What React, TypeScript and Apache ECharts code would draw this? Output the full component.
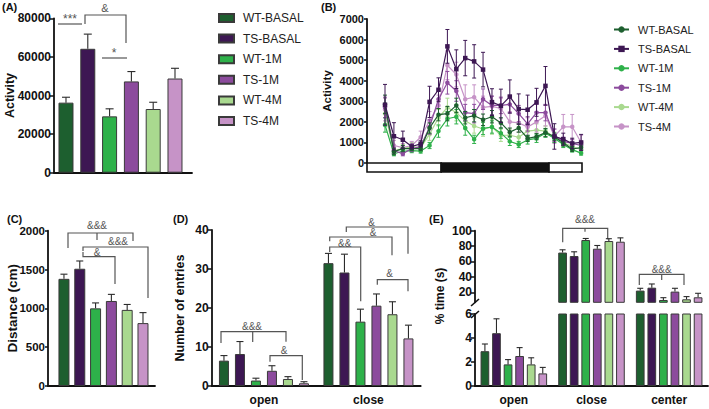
import React, { useEffect, useRef } from "react";
import * as echarts from "echarts";

const FONT = "'Liberation Sans', Arial, Helvetica, sans-serif";

// Groups
const groups = ["WT-BASAL", "TS-BASAL", "WT-1M", "TS-1M", "WT-4M", "TS-4M"];
const groupColors = ["#1d5f2f", "#3d1753", "#2eb14a", "#8c4b9d", "#a9d98f", "#c693c7"];

// Panel A: total activity
const activityMean = [36300, 64200, 29200, 47300, 33000, 48800];
const activitySem = [2800, 7600, 3900, 5100, 3500, 5300];
const groupPos = [0, 1, 2, 3, 4, 5];

// Panel B: hourly activity
const hourIdx = [0, 1, 2, 3, 4, 5, 6, 7, 8, 9, 10, 11, 12, 13, 14, 15, 16, 17, 18, 19, 20, 21, 22];
const hourlyWtBasal = [2850, 550, 700, 700, 700, 1700, 2350, 2400, 2800, 2200, 2300, 2100, 2250, 1950, 1500, 1700, 1200, 1280, 1480, 1280, 980, 680, 750];
const hourlyTsBasal = [2830, 1300, 1130, 800, 930, 2970, 3560, 5670, 4560, 5100, 4940, 4540, 2960, 2780, 3230, 2620, 2590, 2950, 3750, 1290, 1160, 950, 1000];
const hourlyWt1M = [1850, 450, 570, 600, 580, 850, 1550, 2150, 2250, 1700, 1150, 1680, 1750, 1450, 1050, 900, 1120, 1200, 1450, 1200, 900, 650, 480];
const hourlyTs1M = [2700, 600, 450, 700, 800, 1750, 3100, 3900, 3500, 2450, 2400, 3100, 2800, 2800, 2850, 2400, 1900, 2450, 2450, 1350, 1050, 950, 850];
const hourlyWt4M = [2400, 600, 700, 800, 750, 1400, 2200, 2700, 2450, 2050, 1800, 1650, 1750, 1350, 1350, 1250, 1550, 1600, 1550, 1250, 1000, 800, 650];
const hourlyTs4M = [2600, 850, 750, 850, 1250, 2050, 2800, 4750, 4300, 3100, 3200, 2700, 2750, 2650, 2000, 1950, 1750, 2000, 2300, 1300, 1760, 1760, 1000];
const semWtBasal = [450, 150, 150, 100, 100, 250, 300, 350, 350, 300, 300, 280, 300, 250, 200, 200, 150, 150, 200, 180, 150, 120, 120];
const semTsBasal = [990, 660, 420, 120, 150, 760, 580, 820, 940, 860, 810, 840, 650, 810, 810, 740, 710, 680, 940, 620, 290, 255, 390];
const semWt1M = [350, 100, 120, 100, 100, 150, 300, 350, 350, 350, 200, 300, 300, 250, 200, 150, 200, 200, 200, 200, 150, 120, 100];
const semTs1M = [500, 150, 100, 150, 150, 350, 450, 550, 500, 400, 450, 500, 450, 400, 400, 400, 350, 400, 400, 300, 200, 180, 180];
const semWt4M = [500, 150, 200, 200, 200, 300, 400, 450, 400, 400, 350, 350, 350, 300, 300, 250, 250, 300, 250, 250, 200, 150, 150];
const semTs4M = [550, 250, 200, 200, 300, 450, 500, 700, 600, 700, 600, 550, 500, 500, 500, 450, 450, 500, 500, 350, 600, 600, 350];
const hourlyMeans = [hourlyWtBasal, hourlyTsBasal, hourlyWt1M, hourlyTs1M, hourlyWt4M, hourlyTs4M];
const hourlySems = [semWtBasal, semTsBasal, semWt1M, semTs1M, semWt4M, semTs4M];
// light / dark schedule (in hour-index units)
const phaseStart = [-2.02, 6.3, 18.4];
const phaseEnd = [6.3, 18.4, 22.1];
const phaseDark = [0, 1, 0];

// Panel C: distance
const distanceMean = [1380, 1510, 1000, 1095, 980, 810];
const distanceSem = [60, 100, 70, 85, 70, 135];

// Panel D: number of entries
const armCats = ["open", "close"];
const entriesOpen = [6.5, 8.2, 1.4, 3.9, 1.8, 0.7];
const entriesOpenSem = [1.3, 3.2, 0.6, 1.3, 0.6, 0.4];
const entriesClose = [31.5, 29.1, 16.5, 20.6, 18.4, 12.2];
const entriesCloseSem = [2.5, 4.7, 3.2, 3.0, 3.2, 3.4];

// Panel E: % time
const zoneCats = ["open", "close", "center"];
const timeOpen = [2.9, 4.4, 1.8, 2.5, 1.8, 1.05];
const timeOpenSem = [0.6, 1.2, 0.4, 0.7, 0.55, 0.5];
const timeClose = [71.6, 67.1, 87.9, 76.6, 86.6, 85.7];
const timeCloseSem = [3.6, 5.5, 2.0, 4.2, 3.0, 5.0];
const timeCenter = [22.2, 26.0, 10.0, 20.9, 10.9, 13.5];
const timeCenterSem = [3.0, 4.8, 3.0, 4.3, 3.5, 5.2];
const upperTicks = [20, 40, 60, 80, 100];

const BAR_BORDER = "#3a3a3a";
const ERR = { stroke: "#2b2b2b", lineWidth: 1.1 };

function singleErr(capHalf: number) {
  return (params: any, api: any) => {
    const x = api.value(0), m = api.value(1), e = api.value(2);
    const b = api.coord([x, m]);
    const t = api.coord([x, m + e]);
    return {
      type: "group",
      children: [
        { type: "line", shape: { x1: b[0], y1: b[1], x2: t[0], y2: t[1] }, style: ERR },
        { type: "line", shape: { x1: t[0] - capHalf, y1: t[1], x2: t[0] + capHalf, y2: t[1] }, style: ERR },
      ],
    };
  };
}

function groupedErr(j: number, w: number, gap: number, capHalf: number) {
  return (params: any, api: any) => {
    const c = api.value(0), m = api.value(1), e = api.value(2);
    const off = (j - 2.5) * w * (1 + gap);
    const b = api.coord([c, m]);
    const t = api.coord([c, m + e]);
    const x = b[0] + off;
    return {
      type: "group",
      children: [
        { type: "line", shape: { x1: x, y1: b[1], x2: x, y2: t[1] }, style: ERR },
        { type: "line", shape: { x1: x - capHalf, y1: t[1], x2: x + capHalf, y2: t[1] }, style: ERR },
      ],
    };
  };
}

function twoWayErr(color: string) {
  return (params: any, api: any) => {
    const x = api.value(0), m = api.value(1), e = api.value(2);
    const lo = api.coord([x, m - e]);
    const hi = api.coord([x, m + e]);
    const st = { stroke: color, lineWidth: 1 };
    return {
      type: "group",
      children: [
        { type: "line", shape: { x1: lo[0], y1: lo[1], x2: hi[0], y2: hi[1] }, style: st },
        { type: "line", shape: { x1: hi[0] - 2, y1: hi[1], x2: hi[0] + 2, y2: hi[1] }, style: st },
        { type: "line", shape: { x1: lo[0] - 2, y1: lo[1], x2: lo[0] + 2, y2: lo[1] }, style: st },
      ],
    };
  };
}

const axisLineStyle = { lineStyle: { color: "#111", width: 1.8 } };
const plain = (v: number) => String(v);
const tickLabel = (size: number, margin: number) => ({
  fontFamily: FONT,
  fontWeight: "bold" as const,
  fontSize: size,
  color: "#111",
  margin,
});
const numLabel = (size: number, margin: number) => ({ ...tickLabel(size, margin), formatter: plain });
const axisName = (size: number) => ({ fontFamily: FONT, fontWeight: "bold" as const, fontSize: size, color: "#111" });

const SIG = "#555";
function bracket(points: number[][]) {
  return { type: "polyline", silent: true, shape: { points }, style: { stroke: SIG, lineWidth: 1.2, fill: null } };
}
function sigText(text: string, x: number, y: number, size = 10) {
  return {
    type: "text",
    silent: true,
    x,
    y,
    style: { text, fill: SIG, font: `${size}px ${FONT}`, textAlign: "center", textVerticalAlign: "middle" },
  };
}
function panelLabel(text: string, x: number, y: number) {
  return {
    type: "text",
    silent: true,
    x,
    y,
    style: { text, fill: "#111", font: `bold 11px ${FONT}`, textAlign: "left", textVerticalAlign: "top" },
  };
}

function buildOption() {
  const series: any[] = [];

  // ---- A ----
  series.push({
    type: "bar",
    name: "activity",
    xAxisIndex: 0,
    yAxisIndex: 0,
    barWidth: 15,
    data: groupPos.map((p, i) => ({ value: [p, activityMean[i]], itemStyle: { color: groupColors[i] } })),
    itemStyle: { borderColor: BAR_BORDER, borderWidth: 1 },
  });
  series.push({
    type: "custom",
    xAxisIndex: 0,
    yAxisIndex: 0,
    renderItem: singleErr(4),
    data: groupPos.map((p, i) => [p, activityMean[i], activitySem[i]]),
    z: 3,
  });

  // ---- C ----
  series.push({
    type: "bar",
    name: "distance",
    xAxisIndex: 2,
    yAxisIndex: 2,
    barWidth: 11,
    data: groupPos.map((p, i) => ({ value: [p, distanceMean[i]], itemStyle: { color: groupColors[i] } })),
    itemStyle: { borderColor: BAR_BORDER, borderWidth: 1 },
  });
  series.push({
    type: "custom",
    xAxisIndex: 2,
    yAxisIndex: 2,
    renderItem: singleErr(3.5),
    data: groupPos.map((p, i) => [p, distanceMean[i], distanceSem[i]]),
    z: 3,
  });

  // ---- D ----
  groups.forEach((g, j) => {
    series.push({
      type: "bar",
      name: g,
      xAxisIndex: 3,
      yAxisIndex: 3,
      barWidth: 10,
      barGap: "60%",
      data: [entriesOpen[j], entriesClose[j]],
      itemStyle: { color: groupColors[j], borderColor: BAR_BORDER, borderWidth: 1 },
    });
    series.push({
      type: "custom",
      xAxisIndex: 3,
      yAxisIndex: 3,
      renderItem: groupedErr(j, 10, 0.6, 3.5),
      data: [
        [0, entriesOpen[j], entriesOpenSem[j]],
        [1, entriesClose[j], entriesCloseSem[j]],
      ],
      z: 3,
    });
  });

  // ---- E (lower and upper segments) ----
  groups.forEach((g, j) => {
    const vals = [timeOpen[j], timeClose[j], timeCenter[j]];
    series.push({
      type: "bar",
      name: g + " E-low",
      xAxisIndex: 4,
      yAxisIndex: 4,
      barWidth: 8.7,
      barGap: "33%",
      clip: true,
      data: vals,
      itemStyle: { color: groupColors[j], borderColor: BAR_BORDER, borderWidth: 1 },
    });
    series.push({
      type: "bar",
      name: g + " E-up",
      xAxisIndex: 5,
      yAxisIndex: 5,
      barWidth: 8.7,
      barGap: "33%",
      clip: true,
      data: vals,
      itemStyle: { color: groupColors[j], borderColor: BAR_BORDER, borderWidth: 1 },
    });
    series.push({
      type: "custom",
      xAxisIndex: 4,
      yAxisIndex: 4,
      renderItem: groupedErr(j, 8.7, 0.33, 3),
      data: [[0, timeOpen[j], timeOpenSem[j]]],
      z: 3,
    });
    series.push({
      type: "custom",
      xAxisIndex: 5,
      yAxisIndex: 5,
      renderItem: groupedErr(j, 8.7, 0.33, 3),
      data: [
        [1, timeClose[j], timeCloseSem[j]],
        [2, timeCenter[j], timeCenterSem[j]],
      ],
      z: 3,
    });
  });

  // ---- B ----
  series.push({
    type: "custom",
    xAxisIndex: 1,
    yAxisIndex: 1,
    clip: false,
    renderItem: (params: any, api: any) => {
      const p0 = api.coord([api.value(0), 0]);
      const p1 = api.coord([api.value(1), 0]);
      const dark = api.value(2) === 1;
      return {
        type: "rect",
        shape: { x: p0[0], y: p0[1], width: p1[0] - p0[0], height: 9 },
        style: { fill: dark ? "#111" : "#fff", stroke: "#111", lineWidth: 1.6 },
      };
    },
    data: phaseStart.map((s, i) => [s, phaseEnd[i], phaseDark[i]]),
    z: 1,
  });
  const drawOrder = [4, 5, 2, 3, 0, 1];
  drawOrder.forEach((j, k) => {
    const color = groupColors[j];
    series.push({
      type: "custom",
      xAxisIndex: 1,
      yAxisIndex: 1,
      renderItem: twoWayErr(color),
      data: hourIdx.map((h, i) => [h, hourlyMeans[j][i], hourlySems[j][i]]),
      z: 2 + k,
      silent: true,
    });
    series.push({
      type: "line",
      name: groups[j] + " (B)",
      xAxisIndex: 1,
      yAxisIndex: 1,
      data: hourIdx.map((h, i) => [h, hourlyMeans[j][i]]),
      symbol: j === 1 ? "rect" : "circle",
      symbolSize: 4.5,
      showSymbol: true,
      color,
      lineStyle: { width: 1.2, color },
      itemStyle: { color },
      z: 2 + k,
    });
  });

  const graphic: any[] = [
    panelLabel("(A)", 2, 1),
    panelLabel("(B)", 321, 1),
    panelLabel("(C)", 7, 213),
    panelLabel("(D)", 173, 213),
    panelLabel("(E)", 429, 213),
    // A
    { type: "line", silent: true, shape: { x1: 58, y1: 24, x2: 82, y2: 24 }, style: { stroke: SIG, lineWidth: 1.2 } },
    sigText("***", 70, 19, 12),
    bracket([[85, 24], [85, 15], [126, 15], [126, 43]]),
    sigText("&", 105, 8, 11),
    { type: "line", silent: true, shape: { x1: 102, y1: 58, x2: 127, y2: 58 }, style: { stroke: SIG, lineWidth: 1.2 } },
    sigText("*", 114, 53, 12),
    // C
    bracket([[68, 248], [68, 233], [133, 233], [133, 241]]),
    bracket([[97, 233], [97, 240]]),
    sigText("&&&", 97, 225),
    bracket([[83, 251], [83, 247], [148, 247], [148, 298]]),
    sigText("&&&", 118, 241.5),
    bracket([[83, 252], [83, 256.7], [115, 256.7], [115, 284]]),
    sigText("&", 97, 252),
    // D open
    bracket([[221, 343], [221, 331.7], [286, 331.7], [286, 341.7]]),
    bracket([[252.7, 331.7], [252.7, 342]]),
    sigText("&&&", 252, 326),
    bracket([[270, 361.7], [270, 355.7], [302.3, 355.7], [302.3, 380]]),
    sigText("&", 284, 350),
    // D close
    bracket([[346.3, 232], [346.3, 227], [408, 227], [408, 253.7]]),
    sigText("&", 371.5, 222),
    bracket([[329.7, 241.3], [329.7, 237], [392, 237], [392, 255.3]]),
    sigText("&", 373, 232.5),
    bracket([[329.7, 252], [329.7, 247], [360.7, 247], [360.7, 301.3]]),
    sigText("&&", 344.7, 243),
    bracket([[377.3, 284.7], [377.3, 279.7], [408, 279.7], [408, 291.3]]),
    sigText("&", 389.7, 273.5),
    // E
    bracket([[562.7, 242.3], [562.7, 228.3], [607.7, 228.3], [607.7, 239.3]]),
    bracket([[585, 228.3], [585, 231.7]]),
    sigText("&&&", 585, 219.5),
    bracket([[639.3, 285], [639.3, 274.3], [684, 274.3], [684, 285]]),
    bracket([[661.7, 274.3], [661.7, 280]]),
    sigText("&&&", 661.7, 269),
    // axis break marks
    { type: "line", silent: true, shape: { x1: 471, y1: 306, x2: 479, y2: 299 }, style: { stroke: "#111", lineWidth: 1.6 } },
    { type: "line", silent: true, shape: { x1: 471, y1: 318, x2: 479, y2: 311 }, style: { stroke: "#111", lineWidth: 1.6 } },
    {
      type: "text",
      silent: true,
      x: 440,
      y: 296,
      rotation: Math.PI / 2,
      style: { text: "% time (s)", fill: "#111", font: `bold 12px ${FONT}`, textAlign: "center", textVerticalAlign: "middle" },
    },
  ];

  const yLine = { show: true, onZero: false, ...axisLineStyle };
  const yTick = (len: number, extra: any = {}) => ({ show: true, length: len, lineStyle: { color: "#111", width: 1.5 }, ...extra });
  const nameOpts = (name: string, gap: number, size: number) => ({
    name,
    nameLocation: "middle",
    nameRotate: 90,
    nameGap: gap,
    nameMoveOverlap: false,
    nameTextStyle: axisName(size),
  });

  return {
    animation: false,
    backgroundColor: "#fff",
    textStyle: { fontFamily: FONT },
    grid: [
      { left: 54, top: 18.3, width: 138, height: 154.4 },
      { left: 367, top: 19, width: 215, height: 144 },
      { left: 48, top: 230.7, width: 107, height: 155.3 },
      { left: 211.7, top: 230, width: 209, height: 156 },
      { left: 475, top: 314, width: 233, height: 72 },
      { left: 475, top: 230.7, width: 233, height: 71.6 },
    ],
    legend: [
      {
        data: groups.map((name) => ({ name, icon: "rect" })),
        orient: "vertical",
        left: 218,
        top: 12,
        padding: 0,
        itemWidth: 15,
        itemHeight: 8,
        itemGap: 8.6,
        selectedMode: false,
        textStyle: { fontFamily: FONT, fontSize: 12, color: "#222", padding: [0, 0, 0, 4] },
      },
      {
        data: groups.map((g) => g + " (B)"),
        formatter: (name: string) => name.replace(" (B)", ""),
        orient: "vertical",
        left: 613,
        top: 24,
        padding: 0,
        itemWidth: 15,
        itemHeight: 8,
        itemGap: 8.4,
        selectedMode: false,
        textStyle: { fontFamily: FONT, fontSize: 11, color: "#222", padding: [0, 0, 0, 4] },
      },
    ],
    xAxis: [
      {
        type: "value", gridIndex: 0, min: -0.55, max: 5.78,
        axisLine: { show: true, onZero: false, ...axisLineStyle }, axisTick: { show: false }, axisLabel: { show: false }, splitLine: { show: false },
      },
      { type: "value", gridIndex: 1, min: -2.02, max: 22.1, show: false },
      {
        type: "value", gridIndex: 2, min: -1.01, max: 5.76,
        axisLine: { show: true, onZero: false, ...axisLineStyle }, axisTick: { show: false }, axisLabel: { show: false }, splitLine: { show: false },
      },
      {
        type: "category", gridIndex: 3, data: armCats,
        axisLine: axisLineStyle, axisTick: { show: false }, axisLabel: tickLabel(12, 8),
      },
      {
        type: "category", gridIndex: 4, data: zoneCats,
        axisLine: axisLineStyle, axisTick: { show: false }, axisLabel: tickLabel(12, 8),
      },
      { type: "category", gridIndex: 5, data: zoneCats, show: false },
    ],
    yAxis: [
      {
        type: "value", gridIndex: 0, min: 0, max: 80000, interval: 20000,
        axisLine: yLine, axisTick: yTick(4),
        axisLabel: numLabel(12, 3), splitLine: { show: false },
        ...nameOpts("Activity", 38, 12.5),
      },
      {
        type: "value", gridIndex: 1, min: 0, max: 7000, interval: 1000,
        axisLine: yLine, axisTick: yTick(3),
        axisLabel: numLabel(11, 3), splitLine: { show: false },
        ...nameOpts("Activity", 34, 11.5),
      },
      {
        type: "value", gridIndex: 2, min: 0, max: 2000, interval: 500,
        axisLine: yLine, axisTick: yTick(3),
        axisLabel: numLabel(11.5, 3), splitLine: { show: false },
        ...nameOpts("Distance (cm)", 29, 13.5),
      },
      {
        type: "value", gridIndex: 3, min: 0, max: 40, interval: 10,
        axisLine: yLine, axisTick: yTick(4),
        axisLabel: numLabel(12, 3), splitLine: { show: false },
        ...nameOpts("Number of entries", 25.5, 12.5),
      },
      {
        type: "value", gridIndex: 4, min: 0, max: 6, interval: 2,
        axisLine: yLine, axisTick: yTick(4),
        axisLabel: numLabel(12, 3), splitLine: { show: false },
      },
      {
        type: "value", gridIndex: 5, min: 7, max: 100,
        axisLine: yLine,
        axisTick: yTick(4, { customValues: upperTicks }),
        axisLabel: { ...numLabel(12, 3), customValues: upperTicks }, splitLine: { show: false },
      },
    ],
    graphic,
    series,
  };
}

export default function App() {
  const ref = useRef<HTMLDivElement>(null);
  useEffect(() => {
    if (!ref.current) return;
    const chart = echarts.init(ref.current, undefined, { renderer: "svg" });
    chart.setOption(buildOption() as any);
    return () => chart.dispose();
  }, []);
  return (
    <div
      ref={ref}
      style={{ position: "fixed", left: 0, top: 0, width: 709, height: 409, background: "#fff" }}
    />
  );
}
